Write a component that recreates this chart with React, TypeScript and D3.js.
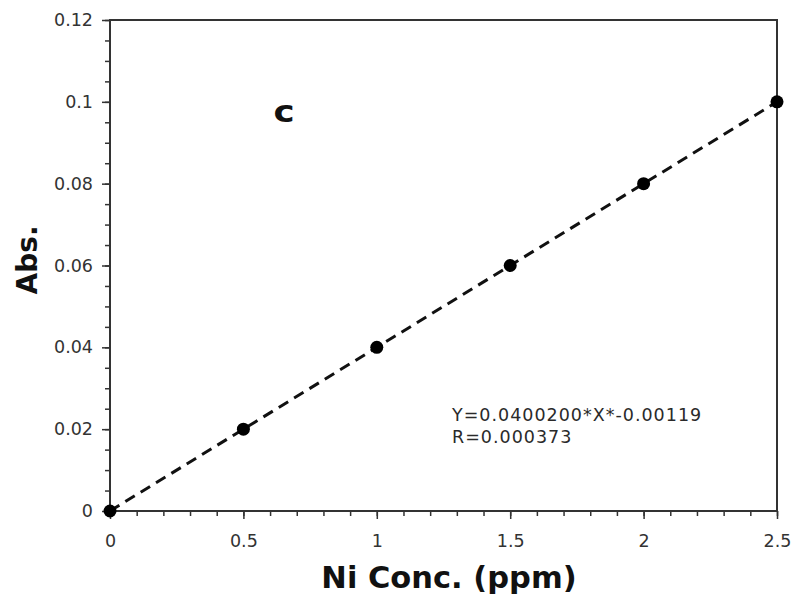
import React, { useEffect, useRef } from "react";
import * as d3 from "d3";

const concentrations = [0, 0.5, 1, 1.5, 2, 2.5];
const absorbances = [0, 0.02, 0.04, 0.06, 0.08, 0.1];
const xTicks = [0, 0.5, 1, 1.5, 2, 2.5];
const yTicks = [0, 0.02, 0.04, 0.06, 0.08, 0.1, 0.12];
const equationLines = ["Y=0.0400200*X*-0.00119", "R=0.000373"];

const W = 794;
const H = 598;
const margin = { top: 20, right: 17, bottom: 87, left: 110 };
const font = "'DejaVu Sans', Verdana, sans-serif";

export default function App() {
  const ref = useRef<SVGSVGElement>(null);

  useEffect(() => {
    const svg = d3.select(ref.current);
    svg.selectAll("*").remove();

    const x = d3.scaleLinear().domain([0, 2.5]).range([margin.left, W - margin.right]);
    const y = d3.scaleLinear().domain([0, 0.12]).range([H - margin.bottom, margin.top]);

    svg.append("rect").attr("width", W).attr("height", H).attr("fill", "#fff");

    // minor ticks
    const xMinor = d3.range(0, 2.5001, 0.1);
    const yMinor = d3.range(0, 0.12001, 0.005);
    svg.append("g")
      .attr("transform", `translate(0,${y(0)})`)
      .call(d3.axisBottom(x).tickValues(xMinor).tickSize(5).tickFormat(() => ""))
      .call(g => g.select(".domain").remove())
      .selectAll("line").attr("stroke", "#333").attr("stroke-width", 1.5);
    svg.append("g")
      .attr("transform", `translate(${x(0)},0)`)
      .call(d3.axisLeft(y).tickValues(yMinor).tickSize(5).tickFormat(() => ""))
      .call(g => g.select(".domain").remove())
      .selectAll("line").attr("stroke", "#333").attr("stroke-width", 1.5);

    // major ticks
    const gx = svg.append("g")
      .attr("transform", `translate(0,${y(0)})`)
      .call(d3.axisBottom(x).tickValues(xTicks).tickSize(8).tickPadding(16).tickFormat(d => String(d)));
    gx.select(".domain").remove();
    gx.selectAll("line").attr("stroke", "#333").attr("stroke-width", 1.5);
    gx.selectAll("text").attr("font-family", font).attr("font-size", 17.5).attr("fill", "#333");

    const gy = svg.append("g")
      .attr("transform", `translate(${x(0)},0)`)
      .call(d3.axisLeft(y).tickValues(yTicks).tickSize(8).tickPadding(9).tickFormat(d => String(d)));
    gy.select(".domain").remove();
    gy.selectAll("line").attr("stroke", "#333").attr("stroke-width", 1.5);
    gy.selectAll("text").attr("font-family", font).attr("font-size", 17.5).attr("fill", "#333");

    // frame
    svg.append("rect")
      .attr("x", x(0)).attr("y", y(0.12))
      .attr("width", x(2.5) - x(0)).attr("height", y(0) - y(0.12))
      .attr("fill", "none").attr("stroke", "#333").attr("stroke-width", 2);

    // fit line
    const pts = concentrations.map((c, i) => [c, absorbances[i]] as [number, number]);
    const line = d3.line<[number, number]>().x(d => x(d[0])).y(d => y(d[1]));
    svg.append("path")
      .datum([pts[0], pts[pts.length - 1]])
      .attr("d", line)
      .attr("fill", "none").attr("stroke", "#111")
      .attr("stroke-width", 3).attr("stroke-dasharray", "11,7");

    svg.append("g").selectAll("circle").data(pts).enter().append("circle")
      .attr("cx", d => x(d[0])).attr("cy", d => y(d[1])).attr("r", 6.5).attr("fill", "#000");

    // labels
    svg.append("text")
      .attr("x", 449).attr("y", 588)
      .attr("text-anchor", "middle")
      .attr("font-family", font).attr("font-weight", "bold").attr("font-size", 30.5)
      .attr("fill", "#111")
      .text("Ni Conc. (ppm)");
    svg.append("text")
      .attr("transform", `translate(37,260) rotate(-90)`)
      .attr("text-anchor", "middle")
      .attr("font-family", font).attr("font-weight", "bold").attr("font-size", 28)
      .attr("fill", "#111")
      .text("Abs.");
    svg.append("text")
      .attr("x", 284).attr("y", 122)
      .attr("text-anchor", "middle")
      .attr("font-family", font).attr("font-weight", "bold").attr("font-size", 31)
      .attr("fill", "#111")
      .attr("transform", "translate(284,122) scale(1.15,1) translate(-284,-122)")
      .text("c");

    svg.append("g").selectAll("text").data(equationLines).enter().append("text")
      .attr("x", 452).attr("y", (d, i) => 421 + i * 22)
      .attr("font-family", font).attr("font-size", 17.5).attr("fill", "#2a2a2a")
      .attr("letter-spacing", 1)
      .text(d => d);
  }, []);

  return (
    <svg ref={ref} width={W} height={H}
      style={{ position: "absolute", left: 0, top: 0, display: "block" }} />
  );
}
